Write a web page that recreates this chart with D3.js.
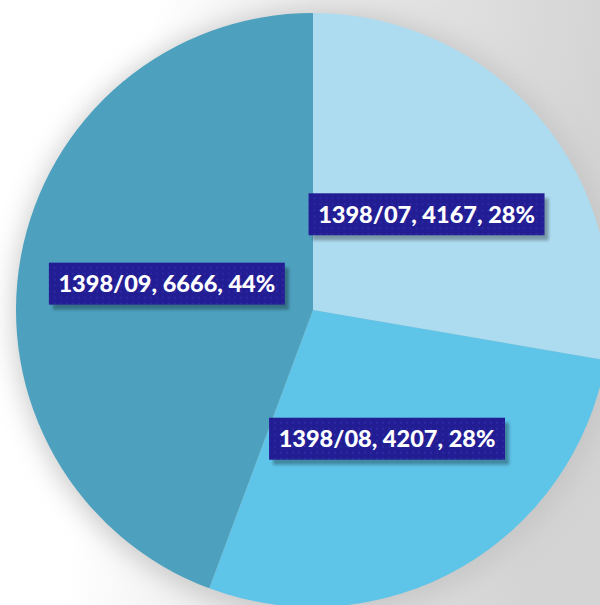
<!DOCTYPE html>
<html><head><meta charset="utf-8">
<script src="https://cdn.jsdelivr.net/npm/d3@7/dist/d3.min.js"></script>
<style>html,body{margin:0;padding:0;background:#fff;overflow:hidden}</style>
</head><body>
<svg id="chart" width="600" height="605"></svg>
<script>
const categories = ["1398/07", "1398/08", "1398/09"];
const values = [4167, 4207, 6666];
const percents = ["28%", "28%", "44%"];
const colors = ["#ADDBF0", "#5EC4E8", "#4DA1BF"];

const W = 600, H = 605, cx = 313, cy = 310, R = 297;
const svg = d3.select("#chart");
const defs = svg.append("defs");

const bg = defs.append("linearGradient").attr("id", "bg").attr("x1", "0").attr("y1", "0").attr("x2", "1").attr("y2", "0.15");
bg.append("stop").attr("offset", "0.25").attr("stop-color", "#ffffff");
bg.append("stop").attr("offset", "0.6").attr("stop-color", "#e6e6e6");
bg.append("stop").attr("offset", "1").attr("stop-color", "#d4d4d4");
svg.append("rect").attr("width", W).attr("height", H).attr("fill", "url(#bg)");

const blur = defs.append("filter").attr("id", "shadow").attr("x", "-30%").attr("y", "-30%").attr("width", "160%").attr("height", "160%");
blur.append("feGaussianBlur").attr("stdDeviation", 12);
svg.append("circle").attr("cx", cx + 4).attr("cy", cy + 4).attr("r", R + 8)
  .attr("fill", "#c4c4c4").attr("filter", "url(#shadow)").attr("opacity", 0.8);

const pat = defs.append("pattern").attr("id", "dots").attr("width", 6).attr("height", 6).attr("patternUnits", "userSpaceOnUse");
pat.append("rect").attr("width", 6).attr("height", 6).attr("fill", "#231D93");
pat.append("rect").attr("x", 1).attr("y", 1).attr("width", 2).attr("height", 2).attr("fill", "#2B28A3");

const lblShadow = defs.append("filter").attr("id", "lblShadow").attr("x", "-20%").attr("y", "-40%").attr("width", "140%").attr("height", "180%");
lblShadow.append("feGaussianBlur").attr("stdDeviation", 1.5);

const pie = d3.pie().sort(null).value(d => d.value);
const data = categories.map((c, i) => ({ cat: c, value: values[i], pct: percents[i], color: colors[i] }));
const arcs = pie(data);
const arc = d3.arc().innerRadius(0).outerRadius(R);

const g = svg.append("g").attr("transform", `translate(${cx},${cy})`);
g.selectAll("path.slice").data(arcs).join("path").attr("class", "slice")
  .attr("d", arc).attr("fill", d => d.data.color);

const boxW = 236, boxH = 42;
const labels = g.selectAll("g.lbl").data(arcs).join("g").attr("class", "lbl")
  .attr("transform", d => { const c = arc.centroid(d); return `translate(${c[0]},${c[1]})`; });
labels.append("rect").attr("x", -boxW / 2 + 4).attr("y", -boxH / 2 + 5).attr("width", boxW).attr("height", boxH)
  .attr("fill", "#000").attr("opacity", 0.3).attr("filter", "url(#lblShadow)");
labels.append("rect").attr("x", -boxW / 2).attr("y", -boxH / 2).attr("width", boxW).attr("height", boxH)
  .attr("fill", "url(#dots)");
const texts = labels.append("text").attr("text-anchor", "middle").attr("dy", "0.36em")
  .attr("font-family", "Lato, 'Open Sans', sans-serif").attr("font-weight", "900")
  .attr("font-size", 23).attr("fill", "#fff")
  .text(d => `${d.data.cat}, ${d.data.value}, ${d.data.pct}`);
texts.each(function () {
  const w = this.getComputedTextLength();
  const sx = 217 / w;
  d3.select(this).attr("transform", `scale(${sx},1)`);
});
</script>
</body></html>
